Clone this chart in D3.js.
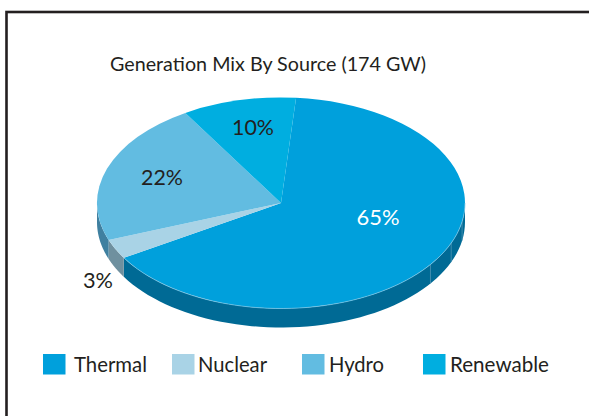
<!DOCTYPE html>
<html>
<head>
<meta charset="utf-8">
<script src="https://cdn.jsdelivr.net/npm/d3@7"></script>
<style>html,body{margin:0;padding:0;background:#fff}svg{display:block}text{font-family:"Lato",sans-serif;fill:#231f20}</style>
</head>
<body>
<script>
const categories = ["Thermal", "Nuclear", "Hydro", "Renewable"];
const shares = [65, 3, 22, 10];
const shareLabels = ["65%", "3%", "22%", "10%"];
const topColors = ["#00a0dc", "#a9d3e6", "#62bce1", "#00aee0"];
const wallColors = ["#006a95", "#6f909f", "#3f80a0", "#006a95"];
const labelColors = ["#ffffff", "#231f20", "#231f20", "#231f20"];
const titleText = "Generation Mix By Source (174 GW)";
const wallSeams = [0.408, 0.46, 0.517];

const W = 589, H = 416;
const cx = 281, cy = 203, rx = 184, ry = 105.5, depth = 19;
const svg = d3.select("body").append("svg").attr("width", W).attr("height", H);

svg.append("rect").attr("x", 6.5).attr("y", 12).attr("width", 620).attr("height", 450)
  .attr("fill", "#fff").attr("stroke", "#231f20").attr("stroke-width", 2.6);

svg.append("text").attr("x", 110).attr("y", 71).attr("font-size", 20)
  .attr("textLength", 316).attr("lengthAdjust", "spacingAndGlyphs").text(titleText);

const startA = 4.7 * Math.PI / 180;
const pie = d3.pie().sort(null).startAngle(startA).endAngle(startA + 2 * Math.PI);
const arcs = pie(shares);
const px = a => cx + rx * Math.sin(a), py = a => cy - ry * Math.cos(a);

function edgeAngles(a0, a1) {
  const lo = Math.max(a0, Math.PI / 2), hi = Math.min(a1, 3 * Math.PI / 2);
  if (hi <= lo) return null;
  return d3.range(0, 61).map(i => lo + (hi - lo) * i / 60);
}
const walls = svg.append("g");
arcs.forEach((d, i) => {
  const ts = edgeAngles(d.startAngle, d.endAngle);
  if (!ts) return;
  const pts = ts.map(t => [px(t), py(t)]).concat(ts.slice().reverse().map(t => [px(t), py(t) + depth]));
  walls.append("path").attr("d", d3.line()(pts) + "Z").attr("fill", wallColors[i]);
});
wallSeams.forEach(f => {
  const a = arcs[0].startAngle + f * (arcs[0].endAngle - arcs[0].startAngle);
  walls.append("line").attr("x1", px(a)).attr("x2", px(a)).attr("y1", py(a)).attr("y2", py(a) + depth)
    .attr("stroke", "#4f95b5").attr("stroke-width", 0.8);
});

const arcGen = d3.arc().innerRadius(0).outerRadius(1);
svg.append("g").attr("transform", `translate(${cx},${cy}) scale(${rx},${ry})`)
  .selectAll("path").data(arcs).join("path")
  .attr("d", arcGen).attr("fill", (d, i) => topColors[i]);

const rimTs = edgeAngles(arcs[0].startAngle, arcs[0].endAngle);
svg.append("path").attr("d", d3.line()(rimTs.map(t => [px(t), py(t)])))
  .attr("fill", "none").attr("stroke", "#7cc7e6").attr("stroke-width", 0.7);

const labelPos = [[378, 225], [98, 288], [162, 185], [253, 135]];
svg.append("g").selectAll("text").data(shareLabels).join("text")
  .attr("x", (d, i) => labelPos[i][0]).attr("y", (d, i) => labelPos[i][1])
  .attr("text-anchor", "middle").attr("font-size", 21.5)
  .attr("textLength", (d, i) => [43, 30, 42, 42][i]).attr("lengthAdjust", "spacingAndGlyphs")
  .style("fill", (d, i) => labelColors[i]).text(d => d);

const legendX = [43, 172, 302, 423];
const legendTextX = [74, 198, 329, 450];
const legendTextLen = [73, 69, 55, 99];
const lg = svg.append("g");
categories.forEach((c, i) => {
  lg.append("rect").attr("x", legendX[i]).attr("y", 354).attr("width", 22.5).attr("height", 20.5).attr("fill", topColors[i]);
  lg.append("text").attr("x", legendTextX[i]).attr("y", 372).attr("font-size", 20.5)
    .attr("textLength", legendTextLen[i]).attr("lengthAdjust", "spacingAndGlyphs").text(c);
});
</script>
</body>
</html>
